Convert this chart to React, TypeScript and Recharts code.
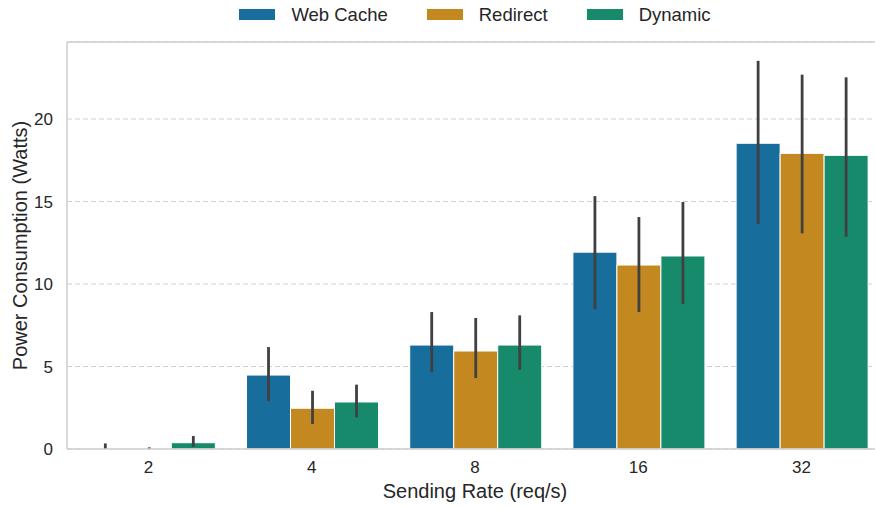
import React from 'react';
import { BarChart, Bar, XAxis, YAxis, CartesianGrid, Legend, ErrorBar, ReferenceLine } from 'recharts';

const rates = ['2', '4', '8', '16', '32'];
const webCache = [0.03, 4.48, 6.3, 11.93, 18.53];
const webCacheLo = [0.0, 2.9, 4.65, 8.48, 13.64];
const webCacheHi = [0.34, 6.18, 8.3, 15.33, 23.53];
const redirect = [0.02, 2.47, 5.94, 11.15, 17.92];
const redirectLo = [0.0, 1.52, 4.3, 8.3, 13.07];
const redirectHi = [0.1, 3.53, 7.94, 14.06, 22.69];
const dynamic = [0.38, 2.85, 6.3, 11.7, 17.8];
const dynamicLo = [0.14, 1.92, 4.8, 8.79, 12.87];
const dynamicHi = [0.79, 3.9, 8.1, 14.97, 22.53];
const yTicks = [0, 5, 10, 15, 20];
const yMax = 24.67;

const seriesNames = ['Web Cache', 'Redirect', 'Dynamic'];
const colors = ['#176d9c', '#c38820', '#168a6a'];

const data = rates.map((r, i) => ({
  rate: r,
  wc: webCache[i],
  wcErr: [webCache[i] - webCacheLo[i], webCacheHi[i] - webCache[i]],
  rd: redirect[i],
  rdErr: [redirect[i] - redirectLo[i], redirectHi[i] - redirect[i]],
  dy: dynamic[i],
  dyErr: [dynamic[i] - dynamicLo[i], dynamicHi[i] - dynamic[i]],
}));

const FONT = '"Liberation Sans", Arial, sans-serif';
const TEXT = '#262626';
const SPINE = '#cccccc';

const LegendContent = (props: any) => {
  const payload = (props.payload || []).slice().sort(
    (a: any, b: any) => seriesNames.indexOf(a.value) - seriesNames.indexOf(b.value)
  );
  return (
    <div
      style={{
        display: 'flex',
        justifyContent: 'center',
        alignItems: 'center',
        paddingLeft: 67,
        height: 29,
        fontFamily: FONT,
        fontSize: 18.5,
        color: TEXT,
      }}
    >
      {payload.map((p: any, i: number) => (
        <div key={i} style={{ display: 'flex', alignItems: 'center', marginRight: i < payload.length - 1 ? 39 : 0 }}>
          <div style={{ width: 36, height: 11, background: p.color, marginRight: 16 }} />
          <span>{p.value}</span>
        </div>
      ))}
    </div>
  );
};

const YLabel = (props: any) => {
  const vb = props.viewBox || {};
  const cy = vb.y + vb.height / 2;
  return (
    <text
      x={20}
      y={cy}
      transform={`rotate(-90, 20, ${cy})`}
      textAnchor="middle"
      dominantBaseline="central"
      fontFamily={FONT}
      fontSize={20}
      fill={TEXT}
    >
      Power Consumption (Watts)
    </text>
  );
};

const XLabel = (props: any) => {
  const vb = props.viewBox || {};
  const cx = vb.x + vb.width / 2;
  return (
    <text x={cx} y={491} textAnchor="middle" dominantBaseline="central" fontFamily={FONT} fontSize={20} fill={TEXT}>
      Sending Rate (req/s)
    </text>
  );
};

export default function App() {
  const bars = [
    { key: 'wc', err: 'wcErr' },
    { key: 'rd', err: 'rdErr' },
    { key: 'dy', err: 'dyErr' },
  ];
  return (
    <div style={{ position: 'absolute', left: 0, top: 0, width: 875, height: 507, overflow: 'hidden', background: '#fff' }}>
      <BarChart
        width={885}
        height={507}
        data={data}
        margin={{ top: 13, right: 2, bottom: 0, left: 0 }}
        barCategoryGap="10%"
        barGap={0}
      >
        <CartesianGrid vertical={false} stroke="#d0d0d0" strokeDasharray="5 3" strokeWidth={1} />
        <XAxis
          dataKey="rate"
          height={58}
          tickLine={false}
          tickSize={0}
          tickMargin={12}
          axisLine={{ stroke: SPINE, strokeWidth: 1.5 }}
          tick={{ fill: TEXT, fontSize: 17, fontFamily: FONT }}
          label={{ content: XLabel }}
        />
        <YAxis
          type="number"
          width={67}
          domain={[0, yMax]}
          ticks={yTicks}
          tickLine={false}
          tickSize={0}
          tickMargin={14}
          axisLine={{ stroke: SPINE, strokeWidth: 1.5 }}
          tick={{ fill: TEXT, fontSize: 17, fontFamily: FONT }}
          label={{ content: YLabel }}
        />
        <Legend verticalAlign="top" align="center" content={LegendContent} wrapperStyle={{ height: 29, top: 0 }} />
        <ReferenceLine y={yMax} stroke={SPINE} strokeWidth={1.5} ifOverflow="extendDomain" />
        {bars.map((b, i) => (
          <Bar
            key={b.key}
            dataKey={b.key}
            name={seriesNames[i]}
            fill={colors[i]}
            stroke="#ffffff"
            strokeWidth={1}
            isAnimationActive={false}
          >
            <ErrorBar dataKey={b.err} width={0} stroke="#404040" strokeWidth={2.8} direction="y" />
          </Bar>
        ))}
      </BarChart>
    </div>
  );
}
